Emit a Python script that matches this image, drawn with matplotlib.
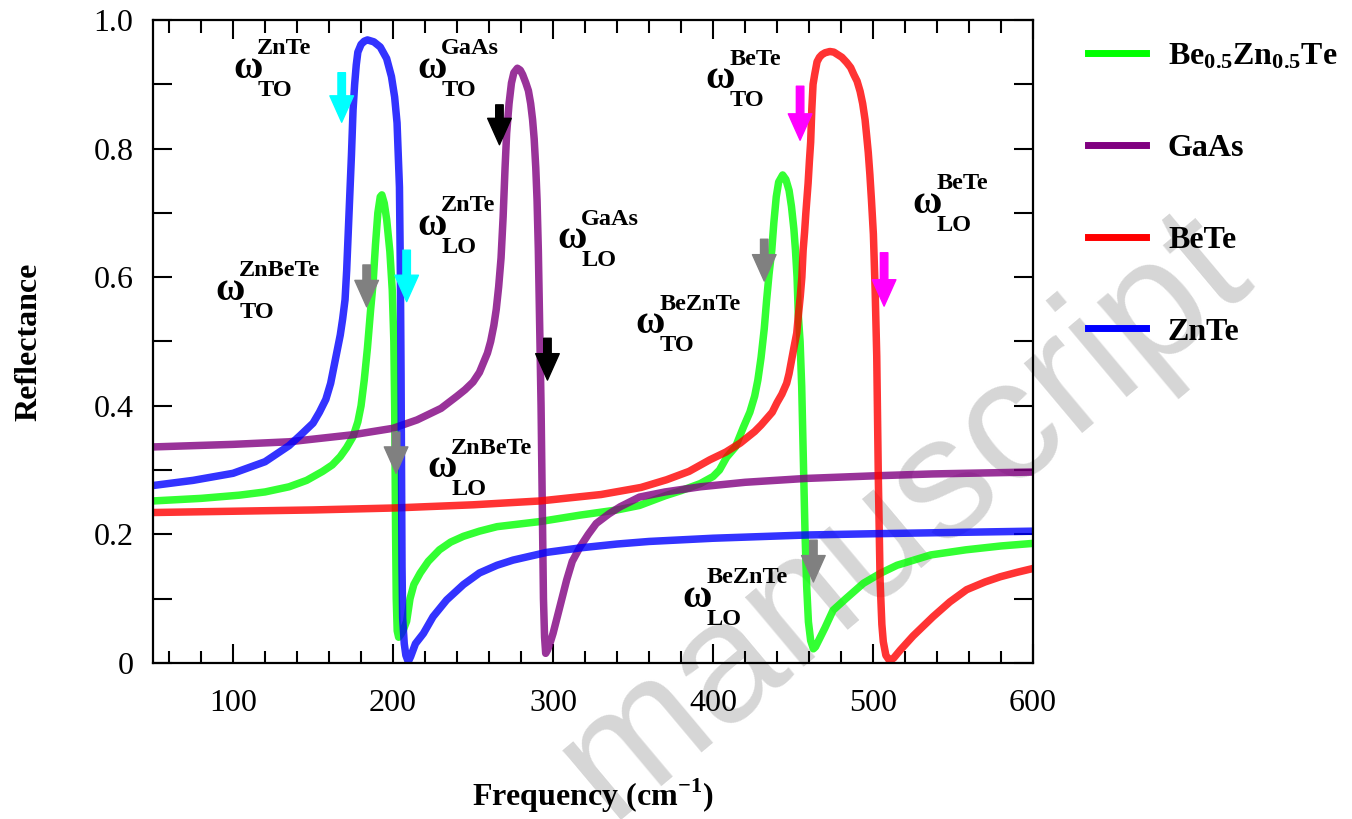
import matplotlib
matplotlib.use('Agg')
import matplotlib.pyplot as plt
from matplotlib.lines import Line2D

plt.rcParams['font.family'] = ['Liberation Serif', 'DejaVu Serif']
plt.rcParams['mathtext.fontset'] = 'custom'
plt.rcParams['mathtext.rm'] = 'Liberation Serif:bold'
plt.rcParams['mathtext.bf'] = 'Liberation Serif:bold'

# Be0.5Zn0.5Te (green)
bezn_x = [50, 80, 104, 120, 135, 146, 156, 162, 167, 171, 175, 178, 180, 182, 184, 186,
          187.5, 189, 190.5, 192, 193, 194.5, 196, 198, 199.5, 200.5, 201, 201.3, 201.6, 202,
          202.6, 203.5, 205, 206.5, 208.5, 210.6, 213, 217, 222, 229, 236, 244, 254, 265, 292,
          317, 340, 354, 370, 380, 392, 400, 404, 408.5, 414, 419, 423, 426, 428, 430, 432,
          433.5, 435, 436.7, 438, 439.5, 441, 443.5, 445.5, 447.5, 449, 450.5, 451.5, 452.5,
          453.3, 454.4, 455.4, 456.4, 457.5, 458.5, 459.6, 461, 462.7, 464, 467, 470, 475,
          483, 494, 505, 515, 536, 558, 580, 600]
bezn_r = [0.252, 0.256, 0.261, 0.266, 0.274, 0.284, 0.298, 0.308, 0.321, 0.335, 0.352, 0.375,
          0.40, 0.44, 0.49, 0.55, 0.59, 0.65, 0.70, 0.725, 0.728, 0.715, 0.69, 0.64, 0.58, 0.5,
          0.4, 0.3, 0.2, 0.1, 0.05, 0.04, 0.045, 0.052, 0.065, 0.1, 0.122, 0.14, 0.158, 0.176,
          0.188, 0.197, 0.205, 0.212, 0.22, 0.23, 0.238, 0.245, 0.26, 0.268, 0.279, 0.29, 0.30,
          0.32, 0.336, 0.367, 0.39, 0.415, 0.44, 0.475, 0.52, 0.565, 0.605, 0.642, 0.685,
          0.725, 0.748, 0.759, 0.752, 0.735, 0.71, 0.675, 0.642, 0.60, 0.54, 0.5, 0.43, 0.32,
          0.2, 0.12, 0.064, 0.035, 0.022, 0.025, 0.04, 0.055, 0.082, 0.10, 0.124, 0.14, 0.152,
          0.168, 0.176, 0.182, 0.186]

# GaAs (purple)
gaas_x = [50, 100, 135, 175, 200, 215, 230, 240, 245, 250, 254, 257, 259, 261, 263, 264.5,
          266, 267.5, 268.8, 270, 271, 272.5, 274, 275.5, 277.7, 279.5, 281, 283, 284.6, 286,
          287.2, 288.2, 289.2, 290, 290.8, 291.9, 292.5, 293, 293.5, 294, 294.7, 295.4, 296.5,
          298, 300, 304, 308.5, 312, 317, 322, 327, 335, 342, 354, 370, 392, 420, 458, 500,
          537, 600]
gaas_r = [0.336, 0.34, 0.344, 0.355, 0.365, 0.378, 0.396, 0.415, 0.425, 0.437, 0.452, 0.47,
          0.482, 0.50, 0.525, 0.55, 0.585, 0.63, 0.694, 0.77, 0.824, 0.87, 0.902, 0.918, 0.925,
          0.922, 0.915, 0.902, 0.89, 0.87, 0.845, 0.815, 0.77, 0.72, 0.642, 0.487, 0.40, 0.30,
          0.20, 0.10, 0.04, 0.015, 0.02, 0.03, 0.046, 0.085, 0.129, 0.158, 0.181, 0.20, 0.217,
          0.232, 0.243, 0.258, 0.266, 0.274, 0.281, 0.287, 0.291, 0.294, 0.297]

# BeTe (red)
bete_x = [50, 100, 150, 200, 250, 292, 330, 355, 371, 385, 398, 408, 417, 426, 430, 433.5,
          437, 440, 443, 446, 447.5, 449, 450.5, 452.3, 453.3, 454.5, 455.5, 456.3, 457.2, 458,
          459.4, 460.2, 461, 461.7, 462.5, 463.5, 465, 466.5, 468, 470, 473, 475.5, 478, 480.5,
          483.5, 486, 488, 490, 491.9, 493.5, 495, 496, 497, 498, 499, 500.2, 501.3, 502.3,
          503.3, 504.4, 505.5, 506.4, 508, 510.5, 513, 517, 525, 537.5, 548, 558.5, 570, 579.4,
          590, 600]
bete_r = [0.234, 0.236, 0.238, 0.241, 0.246, 0.252, 0.262, 0.273, 0.285, 0.298, 0.316, 0.328,
          0.342, 0.36, 0.37, 0.38, 0.39, 0.405, 0.418, 0.435, 0.45, 0.47, 0.49, 0.513, 0.54,
          0.57, 0.60, 0.642, 0.67, 0.70, 0.746, 0.78, 0.81, 0.86, 0.90, 0.915, 0.935, 0.942,
          0.946, 0.949, 0.951, 0.95, 0.946, 0.942, 0.934, 0.926, 0.915, 0.905, 0.889, 0.87,
          0.845, 0.82, 0.794, 0.76, 0.72, 0.667, 0.58, 0.477, 0.286, 0.128, 0.06, 0.033, 0.012,
          0.003, 0.008, 0.02, 0.042, 0.072, 0.095, 0.114, 0.126, 0.134, 0.141, 0.147]

# ZnTe (blue)
znte_x = [50, 75, 100, 120, 135, 142, 150, 154, 158, 161, 163, 165, 167, 168.5, 170, 171, 172,
          173, 174, 175, 176, 177, 178, 180, 182, 184, 188, 192, 196, 199, 201, 202.5, 204,
          204.6, 205, 205.3, 205.6, 206, 207, 208, 209.5, 211, 214, 219, 225, 233.5, 244, 254,
          265, 275, 296, 317, 340, 360, 400, 458, 500, 550, 600]
znte_r = [0.276, 0.284, 0.295, 0.313, 0.338, 0.354, 0.373, 0.39, 0.41, 0.435, 0.46, 0.485,
          0.51, 0.535, 0.565, 0.61, 0.67, 0.73, 0.79, 0.86, 0.90, 0.93, 0.95, 0.962, 0.967,
          0.969, 0.966, 0.958, 0.94, 0.912, 0.88, 0.84, 0.74, 0.6, 0.45, 0.3, 0.15, 0.07, 0.03,
          0.012, 0.002, 0.01, 0.03, 0.046, 0.072, 0.098, 0.122, 0.14, 0.152, 0.16, 0.172,
          0.179, 0.185, 0.189, 0.194, 0.199, 0.201, 0.203, 0.205]

series_names = [r'$\mathbf{Be_{0.5}Zn_{0.5}Te}$', 'GaAs', 'BeTe', 'ZnTe']
series_colors = ['#00ff00', '#800080', '#ff0000', '#0000ff']

# phonon labels: (x, R) of the omega, superscript, subscript
labels = [(100, 0.910, 'ZnTe', 'TO'), (215, 0.910, 'GaAs', 'TO'),
          (215, 0.666, 'ZnTe', 'LO'), (302.5, 0.645, 'GaAs', 'LO'),
          (88.75, 0.565, 'ZnBeTe', 'TO'), (221.25, 0.289, 'ZnBeTe', 'LO'),
          (395, 0.894, 'BeTe', 'TO'), (524.4, 0.700, 'BeTe', 'LO'),
          (351.25, 0.513, 'BeZnTe', 'TO'), (380.6, 0.087, 'BeZnTe', 'LO')]

# arrows: x, tail R, tip R, colour
arrows = [(167.9, 0.918, 0.841, '#00ffff'), (208.5, 0.642, 0.562, '#00ffff'),
          (183.5, 0.619, 0.554, '#808080'), (201.9, 0.359, 0.295, '#808080'),
          (266.5, 0.868, 0.806, 'black'), (296.5, 0.505, 0.44, 'black'),
          (454.4, 0.897, 0.813, '#ff00ff'), (506.9, 0.638, 0.555, '#ff00ff'),
          (432.0, 0.659, 0.594, '#808080'), (462.7, 0.191, 0.126, '#808080')]

fig = plt.figure(figsize=(13.52, 8.19), dpi=100)
ax = fig.add_axes([0.1132, 0.1905, 0.6509, 0.7851])
ax.patch.set_alpha(0)

fig.text(0.668, 0.37, 'manuscript', family='Liberation Sans', fontsize=124,
         color='#d6d6d6', rotation=40, ha='center', va='center', zorder=-5)

data = [(bezn_x, bezn_r), (gaas_x, gaas_r), (bete_x, bete_r), (znte_x, znte_r)]
for (xs, rs), c in zip(data, series_colors):
    ax.plot(xs, rs, color=c, lw=5.4, alpha=0.8, solid_capstyle='butt')

for x, tail, tip, c in arrows:
    ax.annotate('', xy=(x, tip), xytext=(x, tail),
                arrowprops=dict(arrowstyle='simple,head_length=0.95,head_width=0.85,tail_width=0.27',
                                color=c, shrinkA=0, shrinkB=0, mutation_scale=20))

for x, r, sup, sub in labels:
    ax.text(x, r, '\u03c9', fontsize=29, fontweight='bold', ha='left', va='baseline')
    ax.annotate(sup, xy=(x, r), xytext=(17.5, 17), textcoords='offset points',
                fontsize=17.5, fontweight='bold', ha='left', va='baseline')
    ax.annotate(sub, xy=(x, r), xytext=(17.5, -13), textcoords='offset points',
                fontsize=17.5, fontweight='bold', ha='left', va='baseline')

ax.set_xlim(50, 600)
ax.set_ylim(0, 1.0)
ax.set_xticks([100, 200, 300, 400, 500, 600])
ax.set_xticks([60, 80, 120, 140, 160, 180, 220, 240, 260, 280, 320, 340, 360, 380,
               420, 440, 460, 480, 520, 540, 560, 580], minor=True)
ax.set_yticks([0, 0.2, 0.4, 0.6, 0.8, 1.0])
ax.set_yticklabels(['0', '0.2', '0.4', '0.6', '0.8', '1.0'])
ax.set_yticks([0.1, 0.3, 0.5, 0.7, 0.9], minor=True)
ax.tick_params(which='both', direction='in', top=True, right=True, width=1.5, labelsize=23)
ax.tick_params(axis='x', which='major', length=14, pad=19)
ax.tick_params(axis='x', which='minor', length=9)
ax.tick_params(axis='y', which='both', length=14, pad=14)
for s in ax.spines.values():
    s.set_linewidth(1.6)

ax.set_xlabel('Frequency (cm$^{\\mathbf{-1}}$)', fontsize=23, fontweight='bold', labelpad=42)
ax.set_ylabel('Reflectance', fontsize=23, fontweight='bold', labelpad=36)

handles = [Line2D([], [], color=c, lw=5) for c in series_colors]
ax.legend(handles, series_names, loc='upper left', bbox_to_anchor=(0.793, 0.968),
          bbox_transform=fig.transFigure, frameon=False, prop={'weight': 'bold', 'size': 23},
          labelspacing=1.95, handlelength=1.8, handletextpad=0.7, borderpad=0)

fig.savefig('out.png', dpi=100)
